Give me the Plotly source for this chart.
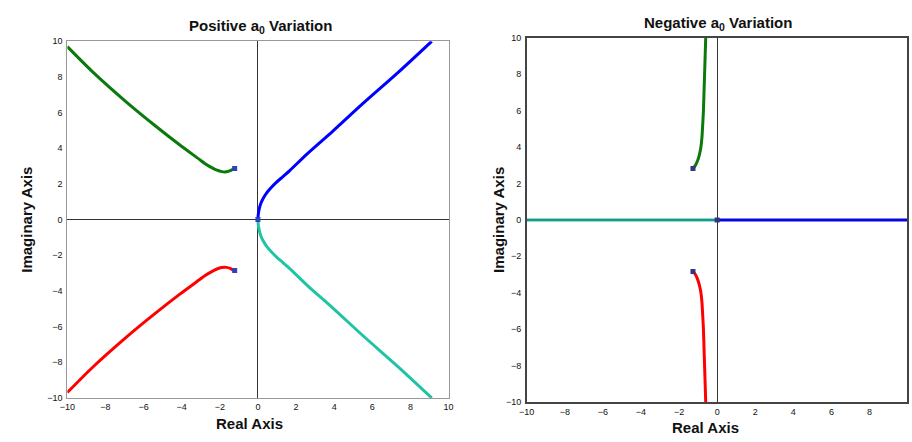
import plotly.graph_objects as go

# ---- Data: Positive a0 variation ----
pos_blue_x = [0.0, 0.02, 0.07, 0.15, 0.28, 0.46, 0.7, 0.98, 1.3, 1.67, 2.6, 3.92, 5.5, 7.3, 9.12]
pos_blue_y = [0.0, 0.3, 0.6, 0.9, 1.2, 1.5, 1.8, 2.1, 2.4, 2.75, 3.7, 4.95, 6.5, 8.2, 10.0]
pos_cyan_x = [0.0, 0.02, 0.07, 0.15, 0.28, 0.46, 0.7, 0.98, 1.3, 1.67, 2.6, 3.92, 5.5, 7.3, 9.12]
pos_cyan_y = [0.0, -0.3, -0.6, -0.9, -1.2, -1.5, -1.8, -2.1, -2.4, -2.75, -3.7, -4.95, -6.5, -8.2, -10.0]
pos_green_x = [-1.22, -1.3, -1.45, -1.65, -1.9, -2.15, -2.4, -2.75, -3.09, -4.13, -5.34, -6.90, -8.63, -10.0]
pos_green_y = [2.86, 2.83, 2.74, 2.68, 2.69, 2.77, 2.9, 3.12, 3.39, 4.21, 5.22, 6.59, 8.24, 9.7]
pos_red_x = [-1.22, -1.3, -1.45, -1.65, -1.9, -2.15, -2.4, -2.75, -3.09, -4.13, -5.34, -6.90, -8.63, -10.0]
pos_red_y = [-2.86, -2.83, -2.74, -2.68, -2.69, -2.77, -2.9, -3.12, -3.39, -4.21, -5.22, -6.59, -8.24, -9.7]
pos_poles_x = [0.0, -1.22, -1.22]
pos_poles_y = [0.0, 2.86, -2.86]

# ---- Data: Negative a0 variation ----
neg_blue_x = [0.0, 10.0]
neg_blue_y = [0.0, 0.0]
neg_cyan_x = [0.0, -10.0]
neg_cyan_y = [0.0, 0.0]
neg_green_x = [-1.27, -1.15, -1.03, -0.94, -0.86, -0.80, -0.76, -0.72, -0.69, -0.66, -0.63, -0.60]
neg_green_y = [2.83, 2.98, 3.25, 3.55, 3.95, 4.5, 5.2, 6.0, 7.0, 8.0, 9.0, 10.0]
neg_red_x = [-1.27, -1.15, -1.03, -0.94, -0.86, -0.80, -0.76, -0.72, -0.69, -0.66, -0.63, -0.60]
neg_red_y = [-2.83, -2.98, -3.25, -3.55, -3.95, -4.5, -5.2, -6.0, -7.0, -8.0, -9.0, -10.0]
neg_poles_x = [0.0, -1.27, -1.27]
neg_poles_y = [0.0, 2.83, -2.83]

tick_vals = [-10, -8, -6, -4, -2, 0, 2, 4, 6, 8, 10]
tick_text = ["\u221210", "\u22128", "\u22126", "\u22124", "\u22122", "0", "2", "4", "6", "8", "10"]

BLUE = "#0000ff"
CYAN = "#20c4a4"
GREEN = "#0a7a0a"
RED = "#ff0000"
LW = 3

fig = go.Figure()

def line(x, y, color, xa, ya, w=LW):
    fig.add_trace(go.Scatter(x=x, y=y, mode="lines", line=dict(color=color, width=w, shape="spline", smoothing=0.8),
                             xaxis=xa, yaxis=ya, showlegend=False, hoverinfo="skip"))

# Left panel
line(pos_blue_x, pos_blue_y, BLUE, "x", "y")
line(pos_cyan_x, pos_cyan_y, CYAN, "x", "y")
line(pos_green_x, pos_green_y, GREEN, "x", "y")
line(pos_red_x, pos_red_y, RED, "x", "y")
fig.add_trace(go.Scatter(x=pos_poles_x, y=pos_poles_y, mode="markers",
                         marker=dict(symbol="square", size=5, color="#3040c0"),
                         xaxis="x", yaxis="y", showlegend=False))

# Right panel
line(neg_cyan_x, neg_cyan_y, CYAN, "x2", "y2")
line(neg_blue_x, neg_blue_y, BLUE, "x2", "y2")
line([-10, 10], [0, 0], "rgba(30,30,60,0.7)", "x2", "y2", w=0.8)
line(neg_green_x, neg_green_y, GREEN, "x2", "y2")
line(neg_red_x, neg_red_y, RED, "x2", "y2")
fig.add_trace(go.Scatter(x=neg_poles_x, y=neg_poles_y, mode="markers",
                         marker=dict(symbol="square", size=5, color="#303880"),
                         xaxis="x2", yaxis="y2", showlegend=False))

tickfont = dict(family="Liberation Sans", size=9, color="#111")

def axis(domain, anchor, rng, linecolor, lw):
    return dict(domain=domain, anchor=anchor, range=rng, tickvals=tick_vals, ticktext=tick_text,
                showgrid=False, zeroline=True, zerolinecolor="#333", zerolinewidth=1,
                showline=True, mirror=True, linecolor=linecolor, linewidth=lw,
                ticks="", tickfont=tickfont, fixedrange=True)

fig.update_layout(
    width=912, height=442,
    margin=dict(l=0, r=0, t=0, b=0),
    paper_bgcolor="white", plot_bgcolor="white",
    xaxis=axis([0.066, 0.490], "y", [-10, 10], "#999", 1),
    yaxis=axis([0.0905, 0.916], "x", [-10, 10], "#999", 1),
    xaxis2=axis([0.577, 1.0], "y2", [-10, 9.97], "#444", 1.5),
    yaxis2=axis([0.081, 0.924], "x2", [-10, 10], "#444", 1.5),
)
fig.update_xaxes(ticklabelstandoff=0)
fig.update_yaxes(ticklabelstandoff=2)

ann_font_t = dict(family="Liberation Sans", size=15, color="#111")
ann_font_a = dict(family="Liberation Sans", size=15, color="#111")

def ann(text, px, py, font, angle=0):
    fig.add_annotation(text=text, x=px / 912, y=1 - py / 442, xref="paper", yref="paper",
                       xanchor="center", yanchor="middle", showarrow=False, font=font,
                       textangle=angle)

ann("<b>Positive a<sub>0</sub> Variation</b>", 256, 22, ann_font_t)
ann("<b>Negative a<sub>0</sub> Variation</b>", 720, 19, ann_font_t)
ann("<b>Real Axis</b>", 245, 428, ann_font_a)
ann("<b>Real Axis</b>", 708, 432, ann_font_a)
ann("<b>Imaginary Axis</b>", 18, 220, ann_font_a, -90)
ann("<b>Imaginary Axis</b>", 497, 220, ann_font_a, -90)

fig.write_html("out.html")
